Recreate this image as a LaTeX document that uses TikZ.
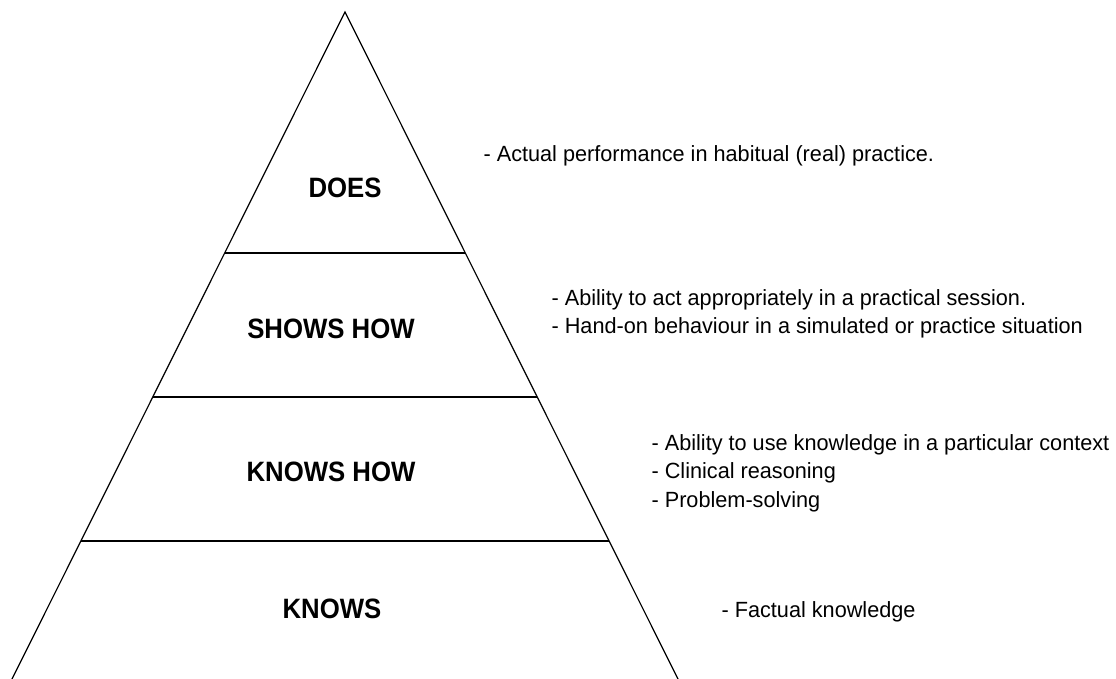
\documentclass[tikz,border=0pt]{standalone}
\usepackage{fontspec}
\setmainfont{Liberation Sans}
\newfontfamily\notefont[FakeStretch=0.985]{Liberation Sans}
\newfontfamily\levelfont[FakeStretch=0.92]{Liberation Sans}
\usetikzlibrary{calc}

\tikzset{
  level/.style={inner sep=0pt,font=\levelfont\bfseries\fontsize{28}{30}\selectfont},
  note/.style={inner sep=0pt,anchor=west,align=left,font=\notefont\fontsize{22}{28.5}\selectfont}
}

\begin{document}
\begin{tikzpicture}[x=1pt,y=-1pt,line width=1.2pt]
  \useasboundingbox (0,0) rectangle (1116,679);

  % pyramid
  \coordinate (apex) at (345,12);
  \coordinate (bl) at (12,679);
  \coordinate (br) at (678,679);
  \draw (bl) -- (apex) -- (br);

  \draw ($(apex)!0.3613!(bl)$) -- ($(apex)!0.3613!(br)$);
  \draw ($(apex)!0.5772!(bl)$) -- ($(apex)!0.5772!(br)$);
  \draw ($(apex)!0.7931!(bl)$) -- ($(apex)!0.7931!(br)$);

  % levels
  \node[level] (does)      at (345,188) {DOES};
  \node[level] (showshow)  at (331,329) {SHOWS HOW};
  \node[level] (knowshow)  at (331,472) {KNOWS HOW};
  \node[level] (knows)     at (332,609) {KNOWS};

  % descriptions
  \node[note] (doesnote)     at (483,156) {- Actual performance in habitual (real) practice.};
  \node[note] (showshownote) at (551,314) {- Ability to act appropriately in a practical session.\\
                                            - Hand-on behaviour in a simulated or practice situation};
  \node[note] (knowshownote) at (651,473) {- Ability to use knowledge in a particular context\\
                                           - Clinical reasoning\\
                                           - Problem-solving};
  \node[note] (knowsnote)    at (721,612) {- Factual knowledge};
\end{tikzpicture}
\end{document}
